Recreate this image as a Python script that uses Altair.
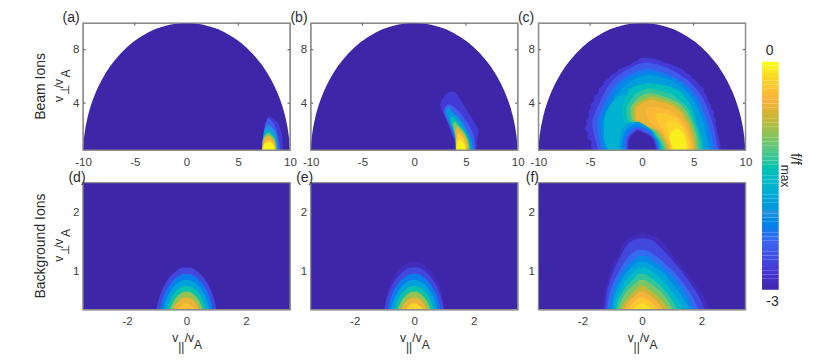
import altair as alt
import pandas as pd

FONT = "Liberation Sans"
INK = "#2b2b2b"
FRAME = "#8c8c8c"

# colour bar: value stops
C_DOMAIN = [-3.0, -2.76, -2.34, -1.95, -1.56, -1.11, -0.75, -0.48, -0.21, 0.0]
C_RANGE = ["#3e26a8", "#4433d0", "#3d66f2", "#2092e0", "#08b8c8", "#5cc880",
           "#bdb838", "#fbb13c", "#f9d42a", "#f8f81a"]
BAR_EDGES = [i / 20 - 3 for i in range(61)]

# axes
TOP_X = [-10, -5, 0, 5, 10]
TOP_Y = [4, 8]
BOT_X = [-2, 0, 2]
BOT_Y = [1, 2]
TOP_XD = [-10, 10]
TOP_YD = [0.49, 10]
BOT_XD = [-3.48, 3.48]
BOT_YD = [0.356, 2.51]

# every shape: level, then rows of (v_perp, left v_par, right v_par)
DOME = [(.45, -9.99, 9.99), (1.5, -9.89, 9.89), (3, -9.54, 9.54), (4.5, -8.93, 8.93), (6, -8, 8), (7, -7.14, 7.14),
        (8, -6, 6), (8.7, -4.93, 4.93), (9.2, -3.92, 3.92), (9.6, -2.8, 2.8), (9.8, -1.99, 1.99), (9.95, -1, 1), (10.02, 0, 0)]
FIELD = [(.3, -3.6, 3.6), (2.6, -3.6, 3.6)]

PANEL_A = [
    (-2.72, [(.45, 7.27, 9.3), (1, 7.3, 9.3), (1.5, 7.4, 9.25), (2, 7.5, 9.1), (2.5, 7.6, 8.9), (2.9, 7.8, 8.3), (3.0, 7.95, 8.0)]),
    (-2.4, [(.45, 7.3, 9.05), (1, 7.32, 9.0), (1.5, 7.4, 8.85), (2, 7.5, 8.7), (2.5, 7.65, 8.4), (2.85, 7.85, 8.0)]),
    (-1.95, [(.45, 7.3, 8.85), (1, 7.33, 8.8), (1.5, 7.42, 8.7), (2, 7.55, 8.45), (2.35, 7.8, 8.0)]),
    (-1.5, [(.45, 7.3, 8.75), (1, 7.35, 8.7), (1.5, 7.45, 8.5), (1.95, 7.75, 8.05)]),
    (-1.0, [(.45, 7.3, 8.7), (1, 7.36, 8.62), (1.5, 7.5, 8.35), (1.75, 7.8, 8.05)]),
    (-.55, [(.45, 7.32, 8.62), (1, 7.38, 8.55), (1.35, 7.55, 8.3), (1.55, 7.85, 8.0)]),
    (-.25, [(.45, 7.33, 8.55), (.9, 7.42, 8.48), (1.2, 7.8, 8.1)]),
    (-.03, [(.45, 7.36, 8.5), (.8, 7.45, 8.4), (1.05, 7.8, 8.05)]),
]
PANEL_B = [
    (-2.72, [(.45, 4.0, 6.05), (1, 3.95, 6.05), (1.4, 3.8, 6.1), (1.9, 3.55, 6.25), (2.4, 3.3, 5.95), (2.9, 3.0, 5.55),
             (3.4, 2.7, 5.15), (3.9, 2.5, 4.75), (4.2, 2.6, 4.55), (4.4, 2.85, 4.3), (4.6, 2.95, 4.2), (4.85, 3.4, 3.9)]),
    (-2.4, [(.45, 4.0, 5.9), (1, 3.97, 5.85), (1.4, 3.85, 5.8), (1.9, 3.6, 5.6), (2.4, 3.35, 5.25), (2.9, 3.05, 4.8), (3.4, 2.85, 4.3), (3.9, 3.2, 3.5)]),
    (-1.9, [(.45, 4.02, 5.65), (1, 4, 5.6), (1.5, 3.9, 5.35), (2, 3.7, 5.05), (2.5, 3.45, 4.7), (3, 3.2, 4.2), (3.4, 3.05, 3.6), (3.7, 3.3, 3.4)]),
    (-1.4, [(.45, 4.03, 5.5), (1, 4.02, 5.4), (1.5, 3.95, 5.15), (2, 3.8, 4.8), (2.5, 3.55, 4.3), (2.9, 3.5, 3.85), (3.0, 3.65, 3.7)]),
    (-.95, [(.45, 4.04, 5.35), (1, 4.03, 5.25), (1.5, 3.98, 5.05), (2, 3.85, 4.65), (2.4, 3.75, 4.15), (2.6, 3.9, 3.95)]),
    (-.55, [(.45, 4.05, 5.2), (1, 4.05, 5.15), (1.5, 4.05, 4.9), (1.9, 4.0, 4.5), (2.2, 4.1, 4.2)]),
    (-.25, [(.45, 4.05, 5.05), (.9, 4.05, 5.0), (1.3, 4.1, 4.8), (1.7, 4.2, 4.45)]),
    (-.04, [(.45, 4.1, 4.95), (.8, 4.1, 4.9), (1.2, 4.25, 4.55), (1.3, 4.35, 4.45)]),
]
PANEL_C = [
    (-2.72, [(.45, -4.75, 7.6), (.8, -4.95, 7.6), (1.1, -4.85, 7.5), (1.4, -5.3, 7.45), (1.7, -5.2, 7.3), (2.1, -5.55, 7.25), (2.4, -5.3, 7.1),
             (2.7, -5.4, 7.15), (3.0, -5.05, 6.95), (3.3, -5.2, 7.0), (3.6, -4.9, 6.7), (3.9, -5.0, 6.65), (4.2, -4.6, 6.35), (4.5, -4.65, 6.35),
             (4.8, -4.2, 6.0), (5.1, -4.15, 5.95), (5.4, -3.7, 5.55), (5.6, -3.7, 5.35), (5.9, -3.15, 4.85), (6.1, -3.0, 4.7), (6.3, -2.5, 4.2),
             (6.5, -2.3, 4.0), (6.7, -1.7, 3.4), (6.9, -1.1, 2.85), (7.05, -.95, 2.2), (7.2, -.45, 1.8), (7.3, -.3, 1.2), (7.4, 0, .6)]),
    (-2.45, [(.45, -4.2, 7.4), (1.5, -4.6, 7.15), (2.5, -4.8, 6.85), (3.5, -4.4, 6.4), (4.5, -3.8, 5.8), (5.2, -3.3, 5.1),
             (5.8, -2.7, 4.3), (6.3, -1.9, 3.3), (6.7, -.9, 2.2), (7.0, 0, .9), (7.05, .4, .5)]),
    (-2.2, [(.45, -3.9, 7.05), (1.5, -4.2, 6.8), (2.5, -4.3, 6.4), (3.5, -3.9, 5.9), (4.5, -3.3, 5.3), (5.2, -2.7, 4.5),
            (5.8, -1.9, 3.5), (6.2, -1.0, 2.4), (6.5, 0, 1.2), (6.6, .6, .7)]),
    (-2.05, [(.45, -3.6, 6.8), (1.5, -3.9, 6.5), (2.5, -4.0, 6.2), (3.5, -3.55, 5.7), (4.5, -2.9, 5.0), (5.2, -2.25, 4.15),
             (5.8, -1.4, 3.1), (6.1, -.4, 1.9), (6.3, .4, 1.1)]),
    (-1.85, [(.45, -3.3, 6.5), (1.5, -3.6, 6.25), (2.5, -3.6, 5.95), (3.5, -3.2, 5.45), (4.5, -2.5, 4.7), (5.2, -1.8, 3.8),
             (5.7, -.9, 2.7), (6, 0, 1.5), (6.1, .7, .8)]),
    (-1.65, [(.45, -3.2, -1.7), (1.5, -3.7, -1.6), (2.5, -3.7, -1.0), (3.5, -3.3, -.8), (4.2, -2.7, -.5), (4.6, -2.0, -.8)]),
    (-1.45, [(.45, 1.75, 5.95), (1, 1.6, 5.9), (1.5, 1.2, 5.75), (2, .6, 5.55), (2.3, -.6, 5.4), (2.7, -1.7, 5.2), (3.5, -1.9, 4.9),
             (4.5, -1.5, 4.1), (5, -1.2, 3.4), (5.35, -.3, 2.0), (5.5, .6, .8)]),
    (-1.25, [(.45, 2.0, 5.7), (1, 1.8, 5.65), (1.5, 1.4, 5.52), (2, .8, 5.32), (2.35, -.5, 5.2), (2.75, -1.35, 4.95), (3.5, -1.5, 4.55),
             (4.3, -1.0, 3.5), (4.8, -.4, 2.4), (5.1, .6, .8)]),
    (-1.0, [(.45, 2.2, 5.45), (1, 2.0, 5.4), (1.5, 1.55, 5.3), (2, 1.0, 5.1), (2.4, -.3, 4.95), (2.8, -1.0, 4.7), (3.5, -1.1, 4.2),
            (4.2, -.6, 3.1), (4.6, .1, 1.6), (4.75, .8, .9)]),
    (-.75, [(.45, 2.4, 5.25), (1, 2.2, 5.2), (1.5, 1.8, 5.08), (2, 1.2, 4.88), (2.4, -.05, 4.72), (2.8, -.8, 4.42), (3.5, -.85, 3.85),
            (4.1, -.3, 2.7), (4.5, .9, 1.1)]),
    (-.55, [(.45, 2.6, 5.05), (1, 2.4, 5.0), (1.5, 2.0, 4.85), (2, 1.4, 4.65), (2.4, .2, 4.5), (2.8, -.6, 4.15), (3.5, -.6, 3.5),
            (4, 0, 2.3), (4.25, .9, 1.0)]),
    (-.42, [(.45, 2.72, 4.88), (1, 2.55, 4.82), (1.5, 2.2, 4.65), (2, 1.7, 4.42), (2.5, .9, 4.1), (3, .5, 3.5), (3.5, .4, 2.6), (3.75, .9, 1.4)]),
    (-.3, [(.45, 2.85, 4.7), (1, 2.7, 4.65), (1.5, 2.4, 4.45), (2, 2.0, 4.2), (2.5, 1.6, 3.8), (3, 1.3, 3.1), (3.3, 1.5, 2.0)]),
    (-.2, [(.45, 2.92, 4.5), (1, 2.78, 4.48), (1.5, 2.55, 4.28), (2, 2.5, 4.0), (2.5, 2.4, 3.5), (2.7, 2.6, 3.0)]),
    (-.06, [(.45, 3.0, 4.3), (1, 2.85, 4.3), (1.5, 2.7, 4.1), (1.9, 3.0, 3.8), (2.1, 3.4, 3.45)]),
    (-1.85, [(.45, -2.2, 1.8), (1, -2.2, 1.7), (1.5, -2.1, 1.3), (2, -1.9, .9), (2.4, -1.5, .2), (2.6, -.7, -.3)]),
    (-2.1, [(.45, -1.9, 1.68), (1, -1.95, 1.58), (1.5, -1.8, 1.2), (2, -1.5, .7), (2.3, -1.0, 0), (2.45, -.6, -.25)]),
    (-2.4, [(.45, -1.6, 1.55), (1, -1.65, 1.45), (1.5, -1.5, 1.1), (2, -1.1, .5), (2.2, -.5, -.2)]),
    (-2.7, [(.45, -1.45, 1.47), (1, -1.45, 1.35), (1.5, -1.32, 1.0), (1.85, -.8, .2), (2.05, -.5, -.2)]),
    (-3.0, [(.45, -1.3, 1.4), (.9, -1.3, 1.25), (1.4, -1.15, .93), (1.7, -.85, .4), (1.9, -.5, -.2)]),
]
PANEL_D = [
    (-2.6, [(.35, -1.01, 1.01), (.5, -.95, .95), (.7, -.81, .81), (.85, -.65, .65), (.95, -.49, .49), (1.02, -.32, .32), (1.06, -.2, .2), (1.07, -.13, .13)]),
    (-2.15, [(.35, -.89, .89), (.5, -.82, .82), (.65, -.71, .71), (.78, -.56, .56), (.87, -.41, .41), (.93, -.24, .24), (.96, -.13, .13)]),
    (-1.8, [(.35, -.785, .785), (.5, -.7, .7), (.62, -.6, .6), (.72, -.47, .47), (.8, -.32, .32), (.85, -.15, .15), (.86, -.11, .11)]),
    (-1.35, [(.35, -.67, .67), (.45, -.6, .6), (.55, -.52, .52), (.65, -.39, .39), (.72, -.23, .23), (.75, -.13, .13), (.757, -.09, .09)]),
    (-.9, [(.35, -.56, .56), (.45, -.48, .48), (.55, -.365, .365), (.62, -.23, .23), (.65, -.13, .13), (.66, -.09, .09)]),
    (-.55, [(.35, -.44, .44), (.42, -.38, .38), (.5, -.26, .26), (.54, -.165, .165), (.565, -.08, .08)]),
    (-.35, [(.35, -.3, .3), (.4, -.23, .23), (.44, -.13, .13), (.46, -.07, .07)]),
]
PANEL_E = [
    (-2.88, [(.35, -1.0, 1.0), (.5, -.97, .97), (.7, -.89, .89), (.9, -.72, .72), (1.0, -.58, .58), (1.1, -.36, .36), (1.15, -.22, .22), (1.17, -.13, .13)]),
] + PANEL_D[:6] + [
    (-.2, [(.35, -.3, .3), (.4, -.23, .23), (.44, -.13, .13), (.46, -.07, .07)]),
]
PANEL_F = [
    (-2.88, [(.35, -1.32, 2.3), (.6, -1.27, 2.05), (.85, -1.15, 1.7), (1.1, -.98, 1.32), (1.3, -.78, 1.0), (1.5, -.6, .7), (1.6, -.35, .4), (1.65, -.12, .12)]),
    (-2.6, [(.35, -1.24, 2.12), (.6, -1.2, 1.9), (.85, -1.07, 1.57), (1.1, -.88, 1.18), (1.3, -.68, .84), (1.45, -.5, .55), (1.54, -.28, .3), (1.565, -.14, .14)]),
    (-2.3, [(.35, -1.18, 1.9), (.6, -1.1, 1.67), (.85, -.93, 1.32), (1.05, -.72, .97), (1.2, -.54, .64), (1.3, -.36, .38), (1.37, -.14, .14)]),
    (-2.05, [(.35, -1.1, 1.75), (.6, -1.0, 1.5), (.85, -.82, 1.15), (1.0, -.64, .87), (1.15, -.4, .5), (1.23, -.2, .24), (1.265, -.13, .13)]),
    (-1.8, [(.35, -1.02, 1.6), (.6, -.93, 1.33), (.8, -.75, 1.03), (.95, -.57, .78), (1.08, -.34, .44), (1.15, -.18, .2), (1.17, -.13, .13)]),
    (-1.55, [(.35, -.95, 1.39), (.55, -.86, 1.18), (.75, -.67, .88), (.9, -.47, .6), (1.0, -.27, .35), (1.05, -.16, .18), (1.07, -.12, .12)]),
    (-1.25, [(.35, -.88, 1.2), (.5, -.8, 1.04), (.65, -.66, .82), (.8, -.44, .55), (.9, -.24, .3), (.96, -.12, .12)]),
    (-1.0, [(.35, -.8, 1.05), (.5, -.7, .88), (.65, -.53, .66), (.75, -.35, .42), (.83, -.16, .19), (.86, -.1, .1)]),
    (-.7, [(.35, -.72, .9), (.45, -.62, .78), (.55, -.48, .6), (.65, -.3, .36), (.73, -.14, .16), (.757, -.09, .09)]),
    (-.5, [(.35, -.62, .72), (.45, -.5, .58), (.55, -.34, .4), (.62, -.18, .2), (.66, -.09, .09)]),
    (-.3, [(.35, -.5, .55), (.45, -.36, .4), (.52, -.2, .22), (.565, -.08, .08)]),
    (-.15, [(.35, -.33, .35), (.42, -.18, .2), (.46, -.07, .07)]),
]

W, H = 207, 127
color_scale = alt.Scale(domain=C_DOMAIN, range=C_RANGE, clamp=True)


def note(text, x, y, size=12, angle=None):
    kw = dict(font=FONT, fontSize=size, color=INK, align="center", baseline="middle")
    if angle is not None:
        kw["angle"] = angle
    return alt.Chart(pd.DataFrame({"t": [text]})).mark_text(**kw).encode(
        text="t:N", x=alt.value(x), y=alt.value(y))


def panel(letter, letter_x, letter_y, shapes, base, xd, yd, xt, yt, ticks, extra):
    xs = alt.Scale(domain=xd, nice=False, zero=False)
    ys = alt.Scale(domain=yd, nice=False, zero=False)
    ax = alt.Axis(values=xt, labelExpr="'' + datum.value", title=None, grid=False, domain=False, ticks=False,
                  labelFont=FONT, labelFontSize=11.5, labelColor="#404040", labelPadding=6, labelFlush=False)
    ay = alt.Axis(values=yt, labelExpr="'' + datum.value", title=None, grid=False, domain=False, ticks=False,
                  labelFont=FONT, labelFontSize=11.5, labelColor="#404040", labelPadding=4)
    layers = []
    for level, rows in [(-3.0, base)] + shapes:
        df = pd.DataFrame(rows, columns=["y", "x0", "x1"]).assign(level=level)
        layers.append(
            alt.Chart(df).mark_area(orient="horizontal", clip=True,
                                    interpolate="linear" if level == -2.72 else "monotone").encode(
                y=alt.Y("y:Q", scale=ys, axis=ay),
                x=alt.X("x0:Q", scale=xs, axis=ax),
                x2="x1:Q",
                color=alt.Color("level:Q", scale=color_scale, legend=None),
            ))
    if ticks:
        dx = (xd[1] - xd[0]) * 2.5 / W
        dy = (yd[1] - yd[0]) * 2.5 / H
        rows = []
        for t in xt[1:-1]:
            rows.append((t, t, yd[1], yd[1] - dy))
        for t in yt:
            rows.append((xd[0], xd[0] + dx, t, t))
            rows.append((xd[1], xd[1] - dx, t, t))
        tdf = pd.DataFrame(rows, columns=["a", "b", "c", "d"])
        layers.insert(1, alt.Chart(tdf).mark_rule(color="#444444", strokeWidth=1).encode(
            x=alt.X("a:Q", scale=xs, axis=ax), x2="b:Q",
            y=alt.Y("c:Q", scale=ys, axis=ay), y2="d:Q"))
    frame = alt.Chart(pd.DataFrame({"k": [0]})).mark_rect(fillOpacity=0, stroke=FRAME, strokeWidth=1.2).encode(
        x=alt.value(0), x2=alt.value(W), y=alt.value(0), y2=alt.value(H))
    layers.append(frame)
    layers.append(note(letter, letter_x, letter_y, 14))
    layers += extra
    return alt.layer(*layers).properties(width=W, height=H)


def perp_label():
    return [note("v", -23.7, 76, 12, 270), note("\u22a5", -17.7, 67.4, 12, 270),
            note("/v", -23.7, 60.7, 12, 270), note("A", -17, 50.4, 12, 270)]


def par_label():
    return [note("v", 92.3, 155.3, 12), note("||", 98.3, 164, 12),
            note("/v", 106.3, 155.3, 12), note("A", 115, 162.3, 12)]


a = panel("(a)", -11.9, -5, PANEL_A, DOME, TOP_XD, TOP_YD, TOP_X, TOP_Y, True,
          [note("Beam Ions", -42, 63.4, 14, 270)] + perp_label())
b = panel("(b)", -11.7, -5, PANEL_B, DOME, TOP_XD, TOP_YD, TOP_X, TOP_Y, True, [])
c = panel("(c)", -12.3, -5, PANEL_C, DOME, TOP_XD, TOP_YD, TOP_X, TOP_Y, True, [])
d = panel("(d)", -6, -4.4, PANEL_D, FIELD, BOT_XD, BOT_YD, BOT_X, BOT_Y, False,
          [note("Background Ions", -42, 63.3, 14, 270)] + perp_label() + par_label())
e = panel("(e)", -6, -4.4, PANEL_E, FIELD, BOT_XD, BOT_YD, BOT_X, BOT_Y, False, par_label())
f = panel("(f)", -6, -4.4, PANEL_F, FIELD, BOT_XD, BOT_YD, BOT_X, BOT_Y, False, par_label())

bar_df = pd.DataFrame({"lo": BAR_EDGES[:-1], "hi": BAR_EDGES[1:]})
bar_rect = alt.Chart(bar_df).mark_rect().encode(
    y=alt.Y("lo:Q", scale=alt.Scale(domain=[-1.162, 0.509], nice=False, zero=False), axis=None),
    y2="hi:Q",
    x=alt.value(-4.1),
    x2=alt.value(12.6),
    color=alt.Color("hi:Q", scale=color_scale, legend=None),
)
bar = alt.layer(
    bar_rect,
    note("0", 3.6, 27.7, 14),
    note("-3", 6.4, 279, 14),
    note("f/f", 28.7, 136, 14, 90),
    note("max", 18.7, 153, 12, 90),
).properties(width=17, height=H, view=alt.ViewConfig(stroke="transparent"))

chart = alt.concat(a, b, c, bar, d, e, f, columns=4, spacing={"row": 32.7, "column": 20.7}, bounds="flush") \
    .properties(padding={"left": 25, "top": 2, "right": 0, "bottom": 0}, background="white") \
    .configure_view(stroke=FRAME, strokeWidth=1.2)

chart.save("out.html", embed_options={"renderer": "svg", "actions": False})
